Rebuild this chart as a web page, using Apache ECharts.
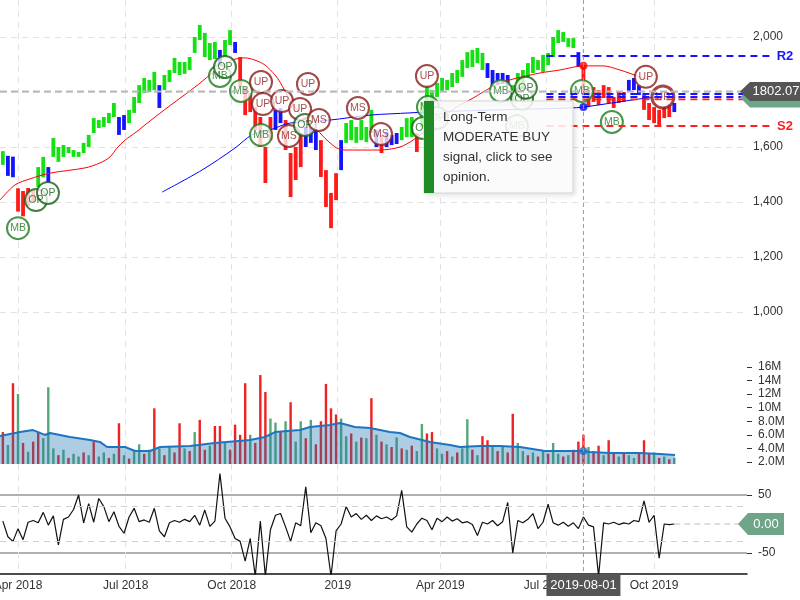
<!DOCTYPE html>
<html><head><meta charset="utf-8">
<script src="https://cdn.jsdelivr.net/npm/echarts@6/dist/echarts.min.js"></script>
<style>html,body{margin:0;padding:0;background:#fff}#c{width:800px;height:600px}</style>
</head><body><div id="c"></div>
<script>
// x positions are trading-day indices (0 = 2018-04-02); bars sampled every 3 trading days
const START_IDX = -9, STEP = 3;
const tickIdx = [0, 64, 127, 190, 251, 314, 378];
const tickLabel = ['Apr 2018', 'Jul 2018', 'Oct 2018', '2019', 'Apr 2019', 'Jul 2019', 'Oct 2019'];

const priceLow = [
 1535,1495,1490,1365,1348,1385,1400,1455,1490,1469,
 1564,1546,1564,1578,1564,1564,1578,1600,1651,1669,
 1673,1687,1709,1644,1662,1687,1724,1760,1796,1800,
 1807,1742,1807,1836,1869,1862,1866,1880,1942,1989,
 1927,1916,1920,1898,1927,1971,1942,1818,1716,1727,
 1662,1600,1469,1625,1662,1687,1589,1418,1480,1527,
 1600,1615,1589,1491,1382,1305,1407,1516,1615,1625,
 1615,1625,1618,1651,1600,1578,1600,1607,1611,1625,
 1636,1636,1582,1673,1760,1764,1782,1800,1807,1818,
 1833,1855,1887,1891,1905,1880,1851,1818,1825,1829,
 1822,1771,1807,1818,1855,1869,1880,1873,1898,1927,
 1978,1982,1964,1960,1891,1782,1745,1764,1753,1778,
 1760,1742,1760,1764,1800,1807,1789,1735,1698,1687,
 1680,1705,1709,1727];
const priceHigh = [
 1585,1568,1565,1450,1440,1451,1444,1527,1564,1527,
 1633,1600,1607,1600,1589,1582,1615,1644,1705,1698,
 1709,1724,1760,1709,1716,1735,1782,1825,1851,1844,
 1873,1825,1862,1880,1924,1909,1909,1927,2000,2044,
 2015,1978,1982,1953,1989,2025,1982,1927,1818,1796,
 1745,1709,1600,1709,1735,1742,1698,1578,1600,1651,
 1673,1673,1662,1625,1516,1433,1505,1625,1687,1698,
 1673,1698,1673,1735,1662,1644,1655,1644,1651,1673,
 1705,1709,1650,1760,1825,1807,1833,1851,1844,1869,
 1880,1916,1945,1953,1960,1942,1905,1880,1869,1869,
 1862,1825,1869,1880,1905,1927,1916,1935,1942,2000,
 2025,2018,1996,1996,1945,1898,1818,1818,1807,1825,
 1818,1782,1800,1800,1844,1851,1825,1789,1760,1745,
 1735,1745,1753,1760];
// g = uptrend, r = downtrend, b = neutral
const priceTrend = [
 'g','b','b','r','r','r','r','g','g','b',
 'g','g','g','g','g','g','g','g','g','g',
 'g','g','g','b','b','g','g','g','g','g',
 'g','b','g','g','g','g','g','g','g','g',
 'g','g','g','b','g','g','b','r','r','r',
 'r','r','r','r','b','b','r','r','r','r',
 'b','b','b','r','r','r','r','b','g','g',
 'g','g','g','g','b','r','b','b','b','g',
 'g','g','r','g','g','g','g','g','g','g',
 'g','g','g','g','g','g','b','b','b','b',
 'b','g','g','g','g','g','g','g','g','g',
 'g','g','g','g','b','r','r','r','r','r',
 'r','r','r','r','b','b','b','r','r','r',
 'r','r','r','b'];
// volume in millions, u = up day, d = down day
const volume = [
 6.4,4.5,13.6,12.0,4.8,3.5,5.0,6.4,5.5,13.0,
 4.0,3.0,3.8,2.6,3.2,2.8,3.4,3.0,5.0,2.8,
 3.4,2.6,3.2,7.7,3.0,2.5,3.8,4.6,3.2,3.8,
 9.9,4.0,3.0,4.2,3.4,7.7,4.0,3.6,6.4,8.2,
 3.8,4.4,7.3,7.3,4.8,3.8,7.5,6.0,13.6,6.0,
 4.8,14.8,12.3,8.4,7.8,6.4,8.0,10.8,5.0,8.0,
 5.5,8.2,4.6,8.0,13.5,9.9,9.0,8.4,5.8,6.2,
 5.0,5.6,5.5,11.4,6.0,5.0,4.6,4.2,5.6,4.0,
 3.8,4.4,3.6,7.6,6.2,6.4,4.0,3.2,3.6,2.8,
 3.4,4.0,8.3,3.8,3.0,5.8,5.2,4.4,3.6,4.2,
 3.4,9.1,4.8,3.6,3.0,3.4,2.8,3.6,3.2,4.8,
 3.2,2.8,3.0,3.8,5.0,6.0,4.2,3.6,4.4,3.0,
 5.2,3.4,2.8,3.2,3.0,2.6,3.4,5.2,3.2,3.4,
 2.6,2.8,2.4,2.6];
const volDir = [
 'd','u','d','u','d','u','d','d','u','u',
 'u','d','u','d','u','u','d','u','d','u',
 'u','d','u','d','u','d','u','u','d','u',
 'd','u','d','u','d','d','u','d','u','d',
 'd','u','d','d','u','d','d','d','d','u',
 'd','d','d','u','u','d','u','d','u','u',
 'd','u','d','d','d','d','d','u','u','d',
 'u','d','u','d','u','d','u','d','u','d',
 'u','d','u','u','d','d','u','u','d','u',
 'd','u','u','d','u','d','d','u','d','u',
 'd','d','u','u','d','u','d','u','d','u',
 'u','d','u','d','d','d','u','d','d','u',
 'd','d','u','d','u','u','d','d','d','u',
 'd','u','d','u'];
const oscillator = [
 5,-22,-30,-8,-27,3,6,2,20,-2,
 14,-36,8,12,25,50,2,35,3,44,
 30,4,21,-4,-16,12,27,4,7,3,
 27,-12,-22,2,6,3,8,4,15,-2,
 24,-4,5,87,10,-5,-25,-30,-64,-25,
 -90,5,-90,-10,15,18,-5,-30,2,-3,
 64,-15,2,-3,-25,-90,-12,0,30,12,
 18,8,15,6,14,9,12,7,14,58,
 -5,-14,0,10,6,-10,10,4,12,5,
 9,2,4,-1,-20,3,0,6,-3,4,
 37,-50,6,2,8,18,-8,3,34,2,
 -2,3,-4,2,-8,12,-2,-5,-90,2,
 0,3,-1,2,0,6,4,40,3,15,
 -59,0,-1,0];

// moving averages (sparse readings)
const maRedIdx = [-10.7,-1.8,7.1,19,39.8,48.7,54.7,58.8,63.6,69.5,81.4,93.3,105.2,114.1,120,127.2,134.9,140.8,146.8,152.7,155.7,161.6,169.3,177.7,183.6,189.5,194.3,215.1,227,234.7,250.7,259.7,270.4,281.6,292.3,310.2,322,336,347.6,357.7,369.6,375.5];
const maRedVal = [1407,1462,1484,1505,1524,1542,1564,1596,1625,1651,1709,1764,1818,1862,1887,1916,1924,1916,1898,1862,1836,1771,1709,1662,1625,1596,1589,1589,1600,1625,1698,1742,1778,1818,1844,1869,1880,1895,1895,1880,1855,1844];
const maBlueIdx = [85.6,109.3,128.9,139,149.7,161.6,185.4,209.2,232.9,241.8,286.4,328,336,369.6,383.2];
const maBlueVal = [1436,1516,1596,1644,1662,1687,1698,1716,1724,1727,1735,1742,1745,1775,1782];
const volMaIdx = [-10.7,1.2,8.9,16,19,30.9,42.8,48.7,52.9,63.6,69.5,78.4,84.4,102.2,117,137.9,146.8,152.7,167.6,173.5,185.4,191.3,200.2,209.2,221,227,232.9,244.8,256.7,262.6,274.5,286.4,298.3,313.1,328,336,339.9,351.7,369.6,381.5,390.4];
const volMaVal = [5.83,6.4,6.7,5.98,6.27,5.68,5.24,4.95,4.21,4.21,3.62,3.62,4.21,4.36,4.8,5.24,5.68,6.4,6.7,7.16,7.45,7.75,7.16,7.0,6.4,6.27,5.68,4.95,4.5,4.21,4.36,4.36,4.21,3.62,3.62,3.6,3.48,3.33,3.33,3.18,3.03];

// signals
const signalLabel = ['MB','OP','OP','MB','OP','MB','UP','MB','UP','UP','MS','UP','OP','UP','MS','MS','MS','OP','UP','MB','OP','MB','MB','OP','OP','MB','MB','UP','UP'];
const signalIdx = [0,10.7,17.8,120,123,132.5,144.4,144.4,145.6,156.9,161,167.6,170.5,172.3,178.8,202,215.7,240.6,243,243.6,249,287,296.5,299.5,301.8,335.1,352.9,373.1,383.2];
const signalPrice = [1305,1407,1433,1858,1891,1804,1836,1644,1756,1767,1640,1738,1680,1829,1698,1742,1647,1669,1858,1745,1705,1804,1676,1775,1815,1804,1691,1855,1782];

// pivot levels
const levelName = ['R2','R1','P','S1','S2'];
const levelValue = [1931,1793,1782,1773,1676];
const levelStartIdx = 314;
const lastPrice = 1802.07;
const lastOsc = 0.00;
const crossIdx = 336, crossDate = '2019-08-01';
const tooltipLines = ['Long-Term', 'MODERATE BUY', 'signal, click to see', 'opinion.'];

// ---------- build ----------
const X_MIN = -10.7, X_MAX = 433.2;
const VOL_MIN = 1.7, VOL_MAX = 16.43;
const FONT = '"Liberation Sans", Arial, sans-serif';
const trendColor = {g:'#14e014', r:'#ff1a1a', b:'#1414ff'};
const volColor = {u:'#55a875', d:'#ee2222'};
const sigColor = {MB:'#1c7a1c', OP:'#155f15', UP:'#8b1a1a', MS:'#8b1a1a'};

const idxOf = i => START_IDX + i * STEP;
const priceData = priceLow.map((lo, i) => [idxOf(i), lo, priceHigh[i]]);
const volData = volume.map((v, i) => [idxOf(i), v]);
const oscData = oscillator.map((v, i) => [idxOf(i), v]);
const zip = (a, b) => a.map((x, i) => [x, b[i]]);

function xAx(gi, show) {
  return {
    type: 'value', gridIndex: gi, min: X_MIN, max: X_MAX,
    axisLine: {show: show, onZero: false, lineStyle: {color: '#111', width: 1.5}},
    axisTick: {show: false, customValues: tickIdx},
    axisLabel: {show: show, customValues: tickIdx, margin: 6, color: '#333', fontSize: 12, fontFamily: FONT,
      formatter: v => { const k = tickIdx.indexOf(v); return k >= 0 ? tickLabel[k] : ''; }},
    splitLine: {show: true, lineStyle: {color: '#e2e2e2', type: [6, 5], width: 1}}
  };
}

const chart = echarts.init(document.getElementById('c'), null, {renderer: 'canvas', width: 800, height: 600});

const option = {
  animation: false,
  backgroundColor: '#fff',
  textStyle: {fontFamily: FONT},
  grid: [
    {left: 0, right: 53, top: 0, height: 364, outerBoundsMode: 'none', containLabel: false},
    {left: 0, right: 53, top: 364, height: 100, outerBoundsMode: 'none', containLabel: false},
    {left: 0, right: 53, top: 464, height: 110, outerBoundsMode: 'none', containLabel: false}
  ],
  xAxis: [xAx(0, false), xAx(1, false), xAx(2, true)],
  yAxis: [
    {type: 'value', gridIndex: 0, position: 'right', min: 811, max: 2134.5,
     axisLine: {show: false, onZero: false}, axisTick: {show: false, customValues: [1000,1200,1400,1600,1800,2000]},
     axisLabel: {customValues: [1000,1200,1400,1600,1800,2000], margin: 6, color: '#333', fontSize: 12,
       formatter: v => v.toLocaleString('en-US')},
     splitLine: {show: true, lineStyle: {color: '#e2e2e2', type: [6, 5]}}},
    {type: 'value', gridIndex: 1, position: 'right', min: VOL_MIN, max: VOL_MAX,
     axisLine: {show: false, onZero: false},
     axisTick: {show: true, length: 5, customValues: [2,4,6,8,10,12,14,16], lineStyle: {color: '#333'}},
     axisLabel: {customValues: [2,4,6,8,10,12,14,16], margin: 11, color: '#333', fontSize: 12,
       formatter: v => (v >= 10 ? v : v.toFixed(1)) + 'M'},
     splitLine: {show: false}},
    {type: 'value', gridIndex: 2, position: 'right', min: -86.2, max: 103.4,
     axisLine: {show: false, onZero: false},
     axisTick: {show: true, length: 5, customValues: [-50, 50], lineStyle: {color: '#333'}},
     axisLabel: {customValues: [-50, 50], margin: 11, color: '#333', fontSize: 12},
     splitLine: {show: true, lineStyle: {color: '#b0b0b0', width: 2, type: 'solid'}}}
  ],
  series: [
    {type: 'custom', name: 'price', xAxisIndex: 0, yAxisIndex: 0, data: priceData,
     encode: {x: 0, y: [1, 2]}, z: 2,
     renderItem: function (params, api) {
       const x = api.value(0), lo = api.value(1), hi = api.value(2);
       const p1 = api.coord([x, hi]), p2 = api.coord([x, lo]);
       return {type: 'rect', shape: {x: p1[0] - 1.9, y: p1[1], width: 3.8, height: Math.max(1, p2[1] - p1[1])},
               style: {fill: trendColor[priceTrend[params.dataIndex]]}};
     }},
    {type: 'line', name: 'ma50', xAxisIndex: 0, yAxisIndex: 0, data: zip(maRedIdx, maRedVal), symbol: 'none',
     smooth: 0.3, lineStyle: {color: '#ff0000', width: 1}, z: 3},
    {type: 'line', name: 'ma200', xAxisIndex: 0, yAxisIndex: 0, data: zip(maBlueIdx, maBlueVal), symbol: 'none',
     smooth: 0.3, lineStyle: {color: '#0000ff', width: 1}, z: 3},
    {type: 'scatter', name: 'cross', xAxisIndex: 0, yAxisIndex: 0, symbolSize: 8, z: 4,
     data: [
       {value: [crossIdx, maRedVal[maRedIdx.indexOf(crossIdx)]], itemStyle: {color: '#ff0000'}},
       {value: [crossIdx, maBlueVal[maBlueIdx.indexOf(crossIdx)]], itemStyle: {color: '#0000ff'}}
     ]},
    {type: 'scatter', name: 'signals', xAxisIndex: 0, yAxisIndex: 0, symbol: 'circle', symbolSize: 22, z: 5,
     data: signalLabel.map((s, i) => ({
       value: [signalIdx[i], signalPrice[i]], name: s,
       itemStyle: {color: 'rgba(255,255,255,0.95)', borderColor: sigColor[s], borderWidth: i === signalLabel.length - 1 ? 3 : 2},
       label: {color: sigColor[s]}
     })),
     label: {show: true, position: 'inside', formatter: p => p.name, fontSize: 10.5, fontFamily: FONT}},
    {type: 'custom', name: 'volume', xAxisIndex: 1, yAxisIndex: 1, data: volData, encode: {x: 0, y: 1}, z: 2,
     renderItem: function (params, api) {
       const x = api.value(0), v = api.value(1);
       const t = api.coord([x, v]), b = api.coord([x, VOL_MIN]);
       return {type: 'rect', shape: {x: t[0] - 1.2, y: t[1], width: 2.4, height: b[1] - t[1]},
               style: {fill: volColor[volDir[params.dataIndex]]}};
     }},
    {type: 'line', name: 'volma', xAxisIndex: 1, yAxisIndex: 1, data: zip(volMaIdx, volMaVal), symbol: 'none',
     lineStyle: {color: '#1f74c0', width: 2}, areaStyle: {color: 'rgba(31,119,180,0.52)', origin: 'start'}, z: 3},
    {type: 'scatter', name: 'volcross', xAxisIndex: 1, yAxisIndex: 1, symbolSize: 8, z: 4,
     data: [[crossIdx, volMaVal[volMaIdx.indexOf(crossIdx)]]], itemStyle: {color: '#1f74c0'}},
    {type: 'line', name: 'osc', xAxisIndex: 2, yAxisIndex: 2, data: oscData, symbol: 'none',
     lineStyle: {color: '#111', width: 1.2}, z: 3,
     markLine: {silent: true, symbol: 'none', label: {show: false},
       lineStyle: {color: '#cfcfcf', type: [6, 5], width: 1},
       data: [{yAxis: 30}, {yAxis: -30}]}}
  ]
};
chart.setOption(option);

// ---------- overlays placed through the chart's own scales ----------
const gx = v => chart.convertToPixel({xAxisIndex: 0}, v);
const gy = (a, v) => chart.convertToPixel({yAxisIndex: a}, v);
const els = [];
const plotRight = gx(X_MAX);

// last price line
const yLast = gy(0, lastPrice);
els.push({type: 'line', z: 20, silent: true, shape: {x1: 0, y1: yLast, x2: plotRight - 6, y2: yLast},
  style: {stroke: '#b9b9b9', lineWidth: 2, lineDash: [7, 4]}});

// pivot lines
const xs = gx(levelStartIdx);
levelName.forEach((n, i) => {
  const y = gy(0, levelValue[i]);
  const blue = n[0] === 'R' || n === 'P';
  const col = blue ? '#1515ff' : '#ff2020';
  const outer = n === 'R2' || n === 'S2';
  els.push({type: 'line', z: 21, silent: true,
    shape: {x1: xs, y1: y, x2: outer ? plotRight + 24 : plotRight - 4, y2: y},
    style: {stroke: col, lineWidth: (n === 'S1') ? 1.6 : 2, lineDash: [7, 5]}});
  if (outer) els.push({type: 'text', z: 22, silent: true, x: plotRight + 38, y: y,
    style: {text: n, fill: col, font: 'bold 13px ' + FONT, align: 'center', verticalAlign: 'middle',
            textAlign: 'center', textVerticalAlign: 'middle'}});
});

// crosshair
const xc = gx(crossIdx);
els.push({type: 'line', z: 30, silent: true, shape: {x1: xc, y1: 0, x2: xc, y2: 574},
  style: {stroke: '#9a9a9a', lineWidth: 1, lineDash: [4, 3]}});
els.push({type: 'rect', z: 31, silent: true, shape: {x: xc - 37, y: 574, width: 74, height: 22},
  style: {fill: '#555'}});
els.push({type: 'text', z: 32, silent: true, x: xc, y: 585,
  style: {text: crossDate, fill: '#fff', font: '13px ' + FONT, align: 'center', verticalAlign: 'middle',
          textAlign: 'center', textVerticalAlign: 'middle'}});

// last price tag
const tag = (y, dy, x0, x1, h) => [[x0, y + dy], [x0 + 10, y + dy - h / 2], [x1, y + dy - h / 2], [x1, y + dy + h / 2], [x0 + 10, y + dy + h / 2]];
els.push({type: 'polygon', z: 40, silent: true, shape: {points: tag(yLast, 6, 740, 800, 20)}, style: {fill: '#6ea487'}});
els.push({type: 'polygon', z: 41, silent: true, shape: {points: tag(yLast, 0, 740, 800, 19)}, style: {fill: '#555'}});
els.push({type: 'text', z: 42, silent: true, x: 776, y: yLast,
  style: {text: lastPrice.toFixed(2), fill: '#fff', font: '13px ' + FONT, align: 'center', verticalAlign: 'middle',
          textAlign: 'center', textVerticalAlign: 'middle'}});

// oscillator tag
const yOsc = gy(2, lastOsc);
els.push({type: 'line', z: 20, silent: true, shape: {x1: gx(idxOf(oscillator.length - 1)), y1: yOsc, x2: 740, y2: yOsc},
  style: {stroke: '#bdbdbd', lineWidth: 1, lineDash: [6, 4]}});
els.push({type: 'polygon', z: 41, silent: true, shape: {points: tag(yOsc, 0, 738, 784, 22)}, style: {fill: '#6ea487'}});
els.push({type: 'text', z: 42, silent: true, x: 766, y: yOsc,
  style: {text: lastOsc.toFixed(2), fill: '#fff', font: '13px ' + FONT, align: 'center', verticalAlign: 'middle',
          textAlign: 'center', textVerticalAlign: 'middle'}});

// signal tooltip
els.push({type: 'rect', z: 50, silent: true, shape: {x: 424, y: 101, width: 149, height: 92},
  style: {fill: 'rgba(255,255,255,0.86)', stroke: '#d6d6d6', lineWidth: 1,
          shadowBlur: 5, shadowColor: 'rgba(0,0,0,0.12)', shadowOffsetX: 2, shadowOffsetY: 2}});
els.push({type: 'rect', z: 51, silent: true, shape: {x: 424, y: 101, width: 10, height: 92}, style: {fill: '#1f8b24'}});
tooltipLines.forEach((t, i) => els.push({type: 'text', z: 52, silent: true, x: 443, y: 117 + i * 20,
  style: {text: t, fill: '#333', font: '13.5px ' + FONT, align: 'left', verticalAlign: 'middle',
          textAlign: 'left', textVerticalAlign: 'middle'}}));

chart.setOption({graphic: {elements: els}});
</script></body></html>
